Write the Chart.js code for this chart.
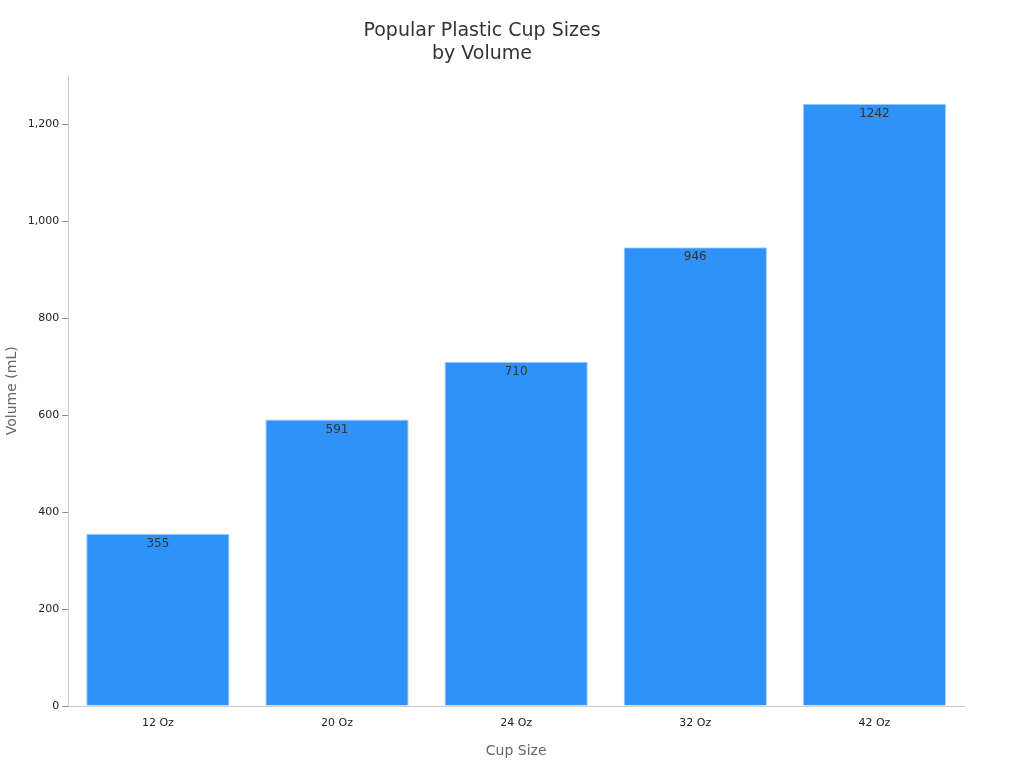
<!DOCTYPE html>
<html>
<head>
<meta charset="utf-8">
<script src="https://cdn.jsdelivr.net/npm/chart.js@4/dist/chart.umd.min.js"></script>
<style>
  body { margin: 0; background: #fff; }
  #wrap { width: 1024px; height: 768px; }
</style>
</head>
<body>
<div id="wrap"><canvas id="cupChart"></canvas></div>
<script>
const cupSizes = ["12 Oz", "20 Oz", "24 Oz", "32 Oz", "42 Oz"];
const volumes = [355, 591, 710, 946, 1242];

Chart.defaults.font.family = "'DejaVu Sans', sans-serif";

// value label just inside the top of each bar
const barLabels = {
  id: "barLabels",
  afterDatasetsDraw(chart) {
    const ctx = chart.ctx;
    ctx.save();
    ctx.font = "12px 'DejaVu Sans', sans-serif";
    ctx.fillStyle = "#333";
    ctx.textAlign = "center";
    ctx.textBaseline = "top";
    chart.getDatasetMeta(0).data.forEach((bar, i) => {
      ctx.fillText(volumes[i], bar.x, bar.y + 4);
    });
    ctx.restore();
  },
};

new Chart(document.getElementById("cupChart").getContext("2d"), {
  type: "bar",
  data: {
    labels: cupSizes,
    datasets: [
      {
        data: volumes,
        backgroundColor: "#2f92f8",
        borderColor: "#a9cdf5",
        borderWidth: 1,
        categoryPercentage: 0.8,
        barPercentage: 1.0,
      },
    ],
  },
  options: {
    responsive: true,
    maintainAspectRatio: false,
    animation: false,
    layout: { padding: { left: 0, right: 60, top: 10, bottom: 4 } },
    plugins: {
      legend: { display: false },
      tooltip: { enabled: false },
      title: {
        display: true,
        text: ["Popular Plastic Cup Sizes", "by Volume"],
        color: "#333",
        font: { size: 19, weight: "normal" },
        padding: { top: 10, bottom: 10 },
      },
    },
    scales: {
      x: {
        grid: { display: false },
        border: { color: "#ccc" },
        ticks: { color: "#222", font: { size: 11 } },
        title: { display: true, text: "Cup Size", color: "#666", font: { size: 14 }, padding: { top: 10 } },
      },
      y: {
        min: 0,
        max: 1300,
        afterBuildTicks: (axis) => {
          axis.ticks = axis.ticks.filter((t) => t.value % 200 === 0);
        },
        ticks: { stepSize: 200, color: "#222", font: { size: 11 } },
        grid: { drawOnChartArea: false, tickLength: 6, color: "#888" },
        border: { color: "#ccc" },
        title: { display: true, text: "Volume (mL)", color: "#666", font: { size: 14 } },
      },
    },
  },
  plugins: [barLabels],
});
</script>
</body>
</html>
